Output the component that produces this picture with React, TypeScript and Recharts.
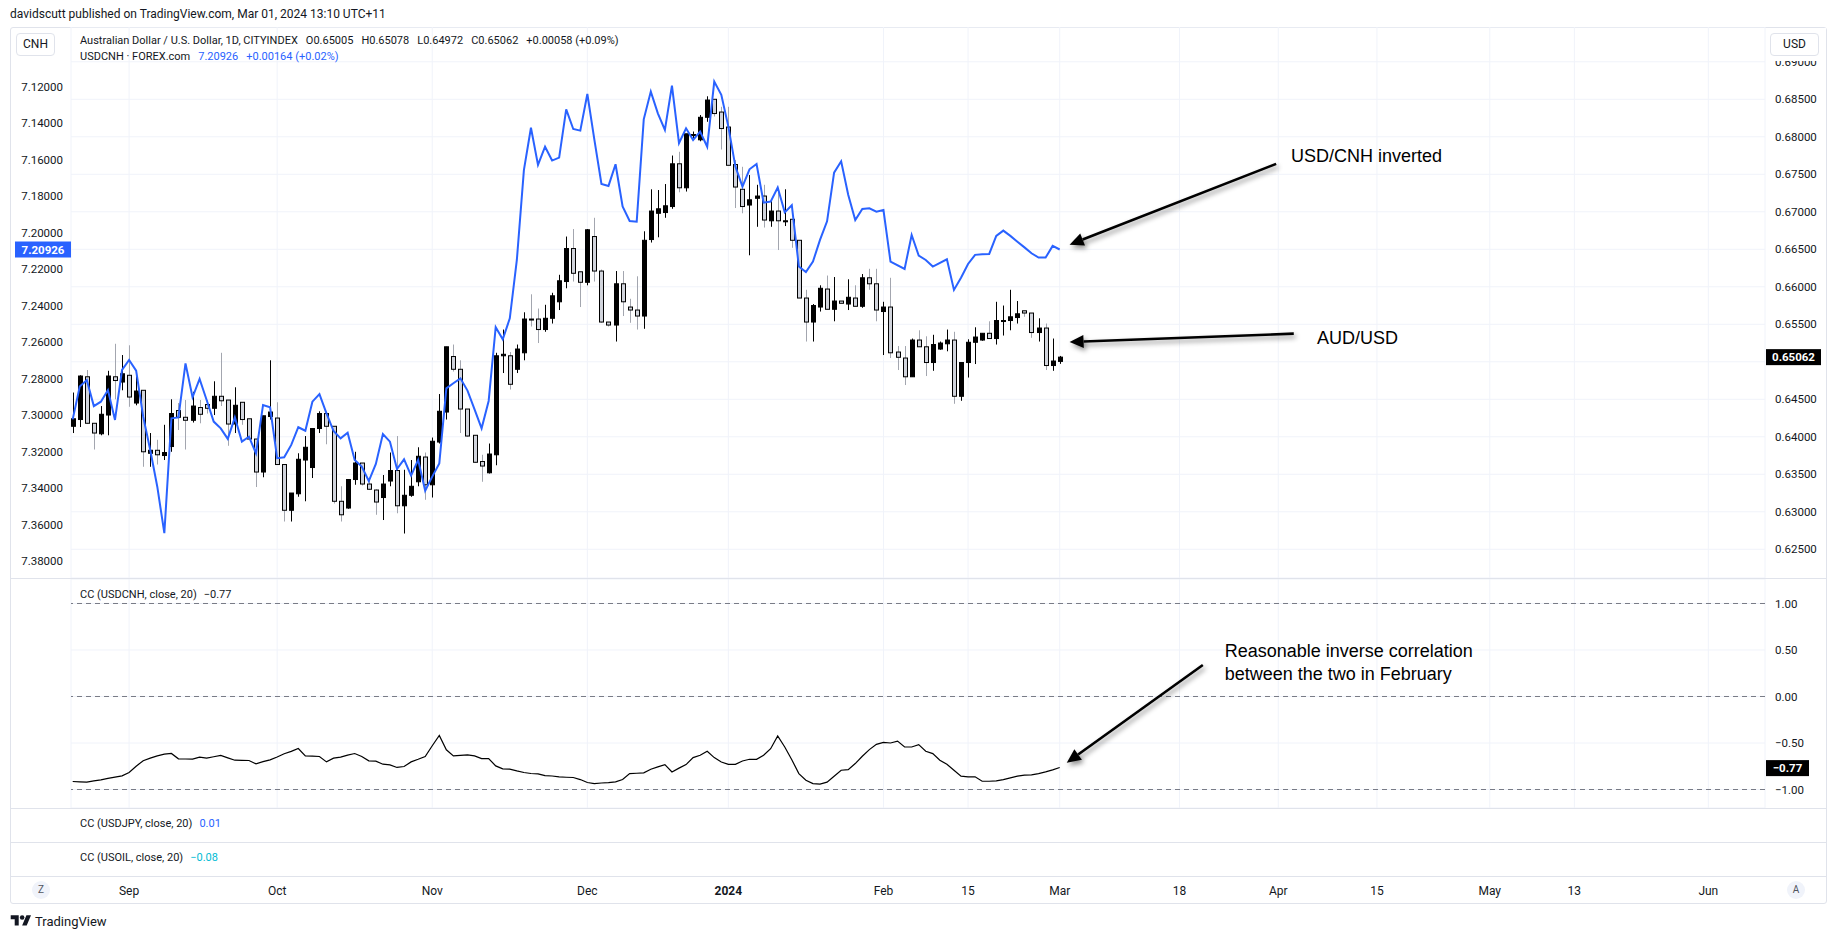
import React from 'react';
import { ComposedChart, Bar, Line, XAxis, YAxis, CartesianGrid, ReferenceLine, ReferenceDot } from 'recharts';

const FONT = 'Roboto, "Noto Sans", sans-serif';
const NOTE_FONT = '"Liberation Sans", Arial, sans-serif';
const INK = '#131722';
const GRID = '#f0f3fa';
const BORDER = '#e0e3eb';
const BLUE = '#2962ff';

// AUD/USD daily candles, oldest first; the last one is 1 Mar 2024
const audOpen = [
  0.6414, 0.6423, 0.6480, 0.6418, 0.6404, 0.6429, 0.6480, 0.6473, 0.6482, 0.6445,
  0.6462, 0.6378, 0.6382, 0.6375, 0.6387, 0.6435, 0.6426, 0.6422, 0.6439, 0.6443,
  0.6438, 0.6454, 0.6449, 0.6417, 0.6446, 0.6424, 0.6397, 0.6353, 0.6427, 0.6425,
  0.6363, 0.6302, 0.6324, 0.6369, 0.6359, 0.6411, 0.6431, 0.6414, 0.6314, 0.6305,
  0.6343, 0.6365, 0.6337, 0.6329, 0.6319, 0.6341, 0.6355, 0.6308, 0.6322, 0.6340,
  0.6373, 0.6336, 0.6393, 0.6433, 0.6507, 0.6490, 0.6437, 0.6402, 0.6367, 0.6352,
  0.6376, 0.6508, 0.6508, 0.6490, 0.6512, 0.6557, 0.6557, 0.6543, 0.6558, 0.6580,
  0.6607, 0.6651, 0.6620, 0.6606, 0.6667, 0.6621, 0.6553, 0.6549, 0.6604, 0.6573,
  0.6569, 0.6561, 0.6663, 0.6698, 0.6699, 0.6707, 0.6764, 0.6732, 0.6802, 0.6796,
  0.6826, 0.6850, 0.6833, 0.6813, 0.6763, 0.6730, 0.6709, 0.6718, 0.6721, 0.6688,
  0.6701, 0.6687, 0.6690, 0.6662, 0.6585, 0.6553, 0.6573, 0.6597, 0.6570, 0.6581,
  0.6577, 0.6585, 0.6574, 0.6612, 0.6604, 0.6567, 0.6573, 0.6513, 0.6505, 0.6480,
  0.6529, 0.6520, 0.6499, 0.6517, 0.6524, 0.6529, 0.6454, 0.6499, 0.6526, 0.6529,
  0.6538, 0.6531, 0.6554, 0.6555, 0.6559, 0.6568, 0.6565, 0.6539, 0.6545, 0.6495,
  0.65005,
];
const audHigh = [
  0.6459, 0.6482, 0.6489, 0.6418, 0.6441, 0.6488, 0.6524, 0.6509, 0.6522, 0.6481,
  0.6462, 0.6405, 0.6396, 0.6416, 0.6450, 0.6445, 0.6449, 0.6460, 0.6449, 0.6449,
  0.6474, 0.6512, 0.6449, 0.6466, 0.6446, 0.6424, 0.6397, 0.6428, 0.6502, 0.6446,
  0.6363, 0.6325, 0.6378, 0.6401, 0.6411, 0.6434, 0.6431, 0.6414, 0.6334, 0.6343,
  0.6380, 0.6365, 0.6343, 0.6330, 0.6349, 0.6379, 0.6401, 0.6356, 0.6369, 0.6386,
  0.6379, 0.6399, 0.6457, 0.6520, 0.6523, 0.6502, 0.6437, 0.6402, 0.6376, 0.6391,
  0.6512, 0.6543, 0.6513, 0.6523, 0.6566, 0.6590, 0.6571, 0.6576, 0.6592, 0.6616,
  0.6667, 0.6677, 0.6620, 0.6677, 0.6692, 0.6623, 0.6553, 0.6621, 0.6621, 0.6584,
  0.6614, 0.6674, 0.6730, 0.6729, 0.6737, 0.6775, 0.6780, 0.6804, 0.6807, 0.6829,
  0.6854, 0.6850, 0.6840, 0.6840, 0.6769, 0.6760, 0.6749, 0.6736, 0.6736, 0.6715,
  0.6732, 0.6730, 0.6690, 0.6662, 0.6596, 0.6577, 0.6602, 0.6615, 0.6613, 0.6581,
  0.6610, 0.6602, 0.6617, 0.6624, 0.6624, 0.6580, 0.6612, 0.6521, 0.6521, 0.6531,
  0.6542, 0.6534, 0.6536, 0.6527, 0.6543, 0.6540, 0.6499, 0.6530, 0.6546, 0.6538,
  0.6554, 0.6580, 0.6575, 0.6596, 0.6581, 0.6568, 0.6565, 0.6558, 0.6551, 0.6531,
  0.65078,
];
const audLow = [
  0.6405, 0.6413, 0.6417, 0.6383, 0.6402, 0.6402, 0.6450, 0.6462, 0.6440, 0.6442,
  0.6360, 0.6360, 0.6363, 0.6369, 0.6380, 0.6409, 0.6383, 0.6419, 0.6418, 0.6431,
  0.6429, 0.6441, 0.6388, 0.6405, 0.6416, 0.6396, 0.6333, 0.6346, 0.6423, 0.6363,
  0.6287, 0.6287, 0.6320, 0.6314, 0.6345, 0.6405, 0.6390, 0.6311, 0.6287, 0.6304,
  0.6336, 0.6335, 0.6329, 0.6296, 0.6289, 0.6334, 0.6298, 0.6271, 0.6320, 0.6334,
  0.6316, 0.6319, 0.6391, 0.6423, 0.6487, 0.6405, 0.6400, 0.6365, 0.6340, 0.6351,
  0.6362, 0.6485, 0.6463, 0.6485, 0.6502, 0.6547, 0.6525, 0.6540, 0.6551, 0.6569,
  0.6598, 0.6607, 0.6573, 0.6602, 0.6607, 0.6552, 0.6547, 0.6527, 0.6561, 0.6552,
  0.6543, 0.6544, 0.6659, 0.6666, 0.6692, 0.6704, 0.6726, 0.6727, 0.6798, 0.6794,
  0.6820, 0.6827, 0.6783, 0.6762, 0.6705, 0.6698, 0.6642, 0.6680, 0.6679, 0.6680,
  0.6649, 0.6681, 0.6652, 0.6585, 0.6527, 0.6527, 0.6567, 0.6570, 0.6554, 0.6578,
  0.6569, 0.6574, 0.6572, 0.6596, 0.6554, 0.6509, 0.6505, 0.6489, 0.6469, 0.6480,
  0.6520, 0.6481, 0.6488, 0.6516, 0.6514, 0.6444, 0.6448, 0.6479, 0.6497, 0.6528,
  0.6531, 0.6523, 0.6535, 0.6542, 0.6551, 0.6560, 0.6532, 0.6527, 0.6489, 0.6488,
  0.64972,
];
const audClose = [
  0.6424, 0.6481, 0.6418, 0.6405, 0.6430, 0.6481, 0.6475, 0.6484, 0.6453, 0.6461,
  0.6380, 0.6382, 0.6376, 0.6379, 0.6431, 0.6426, 0.6422, 0.6441, 0.6430, 0.6438,
  0.6454, 0.6448, 0.6417, 0.6442, 0.6423, 0.6397, 0.6353, 0.6428, 0.6433, 0.6363,
  0.6302, 0.6325, 0.6370, 0.6386, 0.6411, 0.6431, 0.6414, 0.6314, 0.6296, 0.6343,
  0.6365, 0.6337, 0.6330, 0.6313, 0.6337, 0.6355, 0.6308, 0.6322, 0.6334, 0.6374,
  0.6336, 0.6394, 0.6434, 0.6520, 0.6490, 0.6437, 0.6401, 0.6366, 0.6361, 0.6377,
  0.6508, 0.6510, 0.6470, 0.6517, 0.6557, 0.6556, 0.6543, 0.6558, 0.6588, 0.6608,
  0.6651, 0.6618, 0.6606, 0.6676, 0.6621, 0.6553, 0.6549, 0.6604, 0.6580, 0.6569,
  0.6561, 0.6662, 0.6701, 0.6704, 0.6708, 0.6764, 0.6732, 0.6804, 0.6803, 0.6826,
  0.6849, 0.6831, 0.6811, 0.6762, 0.6733, 0.6707, 0.6716, 0.6721, 0.6689, 0.6701,
  0.6688, 0.6688, 0.6662, 0.6585, 0.6553, 0.6575, 0.6598, 0.6570, 0.6581, 0.6578,
  0.6586, 0.6574, 0.6612, 0.6604, 0.6569, 0.6573, 0.6512, 0.6506, 0.6480, 0.6529,
  0.6520, 0.6499, 0.6523, 0.6525, 0.6529, 0.6454, 0.6499, 0.6526, 0.6533, 0.6538,
  0.6531, 0.6555, 0.6555, 0.6560, 0.6564, 0.6565, 0.6539, 0.6545, 0.6495, 0.6501,
  0.65062,
];

// USD/CNH close on the inverted left scale (null = no print that day)
const cnhClose = [
  7.3024, 7.2844, 7.2808, 7.2951, 7.2927, 7.2863, 7.3027, 7.2753, 7.2698, 7.2757,
  7.3009, 7.3192, 7.3393, 7.3648, 7.3018, 7.3013, 7.2717, 7.2903, 7.2802, 7.2918,
  7.3036, 7.3073, 7.3131, 7.3013, 7.3146, 7.3119, 7.3210, 7.2945, 7.2958, 7.3237,
  7.3232, 7.3164, 7.3067, 7.3086, 7.2927, 7.2885, 7.2991, 7.3088, 7.3128, 7.3097,
  7.3246, 7.3283, 7.3362, 7.3268, 7.3104, 7.3146, 7.3296, 7.3243, 7.3332, 7.3246,
  7.3415, 7.3338, 7.3265, 7.2854, 7.2826, 7.2799, 7.2866, 7.2969, 7.3073, 7.2923,
  7.2519, 7.2585, 7.2470, 7.2150, 7.1657, 7.1425, 7.1629, 7.1529, 7.1605, 7.1589,
  7.1324, 7.1432, 7.1441, 7.1240, 7.1492, 7.1733, 7.1744, 7.1625, 7.1857, 7.1936,
  7.1940, 7.1379, 7.1227, 7.1346, 7.1437, 7.1194, 7.1510, 7.1428, 7.1492, 7.1446,
  7.1529, 7.1172, 7.1245, 7.1419, 7.1638, 7.1748, 7.1653, 7.1624, 7.1836, 7.1830,
  7.1753, 7.1889, 7.1850, 7.2186, 7.2216, 7.2159, 7.2040, 7.1938, 7.1671, 7.1609,
  7.1792, 7.1931, 7.1870, 7.1867, 7.1885, 7.1876, 7.2159, null, 7.2199, 7.2013,
  7.2126, 7.2150, 7.2186, null, 7.2146, 7.2314, 7.2247, 7.2172, 7.2122, 7.2119,
  7.2117, 7.2018, 7.1989, 7.2018, 7.2050, 7.2081, 7.2113, 7.2137, 7.2137, 7.2073,
  7.20926,
];

// CC (USDCNH, close, 20)
const ccValues = [
  -0.914, -0.918, -0.921, -0.908, -0.896, -0.880, -0.867, -0.853, -0.817, -0.750,
  -0.690, -0.663, -0.638, -0.620, -0.612, -0.670, -0.672, -0.674, -0.652, -0.663,
  -0.648, -0.634, -0.660, -0.685, -0.687, -0.688, -0.724, -0.700, -0.681, -0.650,
  -0.616, -0.590, -0.559, -0.638, -0.642, -0.645, -0.703, -0.663, -0.652, -0.630,
  -0.613, -0.645, -0.692, -0.695, -0.728, -0.735, -0.763, -0.753, -0.703, -0.675,
  -0.645, -0.530, -0.419, -0.573, -0.638, -0.632, -0.627, -0.638, -0.667, -0.667,
  -0.746, -0.778, -0.781, -0.800, -0.817, -0.828, -0.832, -0.850, -0.855, -0.864,
  -0.868, -0.871, -0.893, -0.925, -0.936, -0.930, -0.925, -0.918, -0.893, -0.829,
  -0.825, -0.821, -0.782, -0.757, -0.732, -0.811, -0.770, -0.732, -0.657, -0.632,
  -0.589, -0.657, -0.704, -0.729, -0.729, -0.693, -0.675, -0.675, -0.632, -0.561,
  -0.425, -0.543, -0.680, -0.829, -0.900, -0.936, -0.943, -0.921, -0.857, -0.793,
  -0.786, -0.721, -0.643, -0.571, -0.514, -0.493, -0.500, -0.479, -0.543, -0.543,
  -0.518, -0.589, -0.614, -0.686, -0.729, -0.793, -0.857, -0.864, -0.864, -0.911,
  -0.911, -0.907, -0.893, -0.875, -0.857, -0.846, -0.843, -0.829, -0.811, -0.789,
  -0.764,
];

// time scale: bar slots up to 1 Mar, calendar days after it
const timeTickSlots = [8, 29, 51, 73, 93, 115, 127, 140, 157, 171, 185, 201, 213, 232];
const timeTickLabels = ['Sep', 'Oct', 'Nov', 'Dec', '2024', 'Feb', '15', 'Mar', '18', 'Apr', '15', 'May', '13', 'Jun'];
const X_MIN = -0.24;
const X_MAX = 240.04;

const audTicks = [0.625, 0.63, 0.635, 0.64, 0.645, 0.65, 0.655, 0.66, 0.665, 0.67, 0.675, 0.68, 0.685, 0.69];
const cnhTicks = [7.12, 7.14, 7.16, 7.18, 7.2, 7.22, 7.24, 7.26, 7.28, 7.3, 7.32, 7.34, 7.36, 7.38];
const ccTicks = [1, 0.5, 0, -0.5, -1];

const audLast = 0.65062;
const cnhLast = 7.20926;
const ccLast = -0.77;

// annotations, in data coordinates
const cnhArrow = [{ x: 170.7, y: 7.1623 }, { x: 141.4, y: 7.2066 }];
const audArrow = [{ x: 173.2, y: 0.65375 }, { x: 141.4, y: 0.65264 }];
const ccArrow = [{ x: 160.3, y: 0.339 }, { x: 141.0, y: -0.712 }];

const minus = (v: number, d: number) => (v < 0 ? '\u2212' + Math.abs(v).toFixed(d) : v.toFixed(d));

function Candle(props: any) {
  const { x, y, width, height, payload } = props;
  if (x == null || y == null) return null;
  const { o, h, l, c } = payload;
  const up = c >= o;
  const k = h > l ? height / (h - l) : 0;
  const yo = y + (h - o) * k;
  const yc = y + (h - c) * k;
  const top = Math.min(yo, yc);
  const bodyH = Math.max(Math.abs(yo - yc), 1);
  const mid = Math.round(x + width / 2) + 0.5;
  return (
    <g>
      <line x1={mid} x2={mid} y1={y} y2={y + height} stroke={up ? '#000' : '#a3a6af'} strokeWidth={1} />
      <rect x={mid - 2} y={top} width={4} height={bodyH} fill={up ? '#000' : '#d1d4dc'} stroke="#000" strokeWidth={1} />
    </g>
  );
}

let arrowCount = 0;
function Arrow(p: any) {
  const { x1, y1, x2, y2 } = p;
  const id = `arrowShadow${arrowCount++}`;
  const ang = Math.atan2(y2 - y1, x2 - x1);
  const len = 14;
  const half = 6.5;
  const bx = x2 - len * Math.cos(ang);
  const by = y2 - len * Math.sin(ang);
  const nx = -Math.sin(ang);
  const ny = Math.cos(ang);
  return (
    <g>
      <defs>
        <filter id={id} x="-20%" y="-50%" width="140%" height="200%">
          <feDropShadow dx="2" dy="3" stdDeviation="2.5" floodColor="#000" floodOpacity="0.45" />
        </filter>
      </defs>
      <g filter={`url(#${id})`}>
        <line x1={x1} y1={y1} x2={bx} y2={by} stroke="#000" strokeWidth={2.6} />
        <polygon points={`${x2},${y2} ${bx + nx * half},${by + ny * half} ${bx - nx * half},${by - ny * half}`} fill="#000" />
      </g>
    </g>
  );
}

const note = (text: string) => (p: any) => (
  <text x={p.cx} y={p.cy} dominantBaseline="central" fontFamily={NOTE_FONT} fontSize={18} fill="#000">
    {text}
  </text>
);

const tag = (text: string, bg: string, side: 'left' | 'right', w: number) => (p: any) => {
  const x = side === 'left' ? Math.min(p.x1, p.x2) - w : Math.max(p.x1, p.x2) + 1;
  return (
    <g>
      <rect x={x} y={p.y1 - 8} width={w} height={16} fill={bg} />
      <text x={x + w / 2} y={p.y1} textAnchor="middle" dominantBaseline="central" fill="#fff" fontSize={11.5} fontWeight={700} fontFamily={FONT}>
        {text}
      </text>
    </g>
  );
};

function TimeTick(p: any) {
  const i = timeTickSlots.indexOf(p.payload.value);
  const label = timeTickLabels[i];
  return (
    <text x={p.x} y={14} textAnchor="middle" dominantBaseline="central" fontSize={12} fontFamily={FONT} fill={INK} fontWeight={label === '2024' ? 700 : 400}>
      {label}
    </text>
  );
}

const tickStyle = { fill: INK, fontSize: 11.5, fontFamily: FONT };

const hline = (top: number) => (
  <div style={{ position: 'absolute', left: 10, top, width: 1817, height: 1, background: BORDER }} />
);

export default function App() {
  const rows = audOpen.map((o, i) => ({
    slot: i,
    o,
    h: audHigh[i],
    l: audLow[i],
    c: audClose[i],
    cnh: cnhClose[i],
    cc: ccValues[i],
  }));

  const xAxis = (
    <XAxis dataKey="slot" type="number" domain={[X_MIN, X_MAX]} allowDataOverflow ticks={timeTickSlots} interval={0} hide />
  );

  return (
    <div style={{ position: 'absolute', left: 0, top: 0, width: 1836, height: 939, background: '#fff', fontFamily: FONT, color: INK, overflow: 'hidden' }}>
      <div style={{ position: 'absolute', left: 10, top: 6, fontSize: 12, lineHeight: '16px' }}>
        davidscutt published on TradingView.com, Mar 01, 2024 13:10 UTC+11
      </div>

      <div style={{ position: 'absolute', left: 10, top: 27, width: 1817, height: 877, border: `1px solid ${BORDER}`, boxSizing: 'border-box', borderRadius: 3 }} />

      {/* price pane */}
      <div style={{ position: 'absolute', left: 11, top: 27 }}>
        <ComposedChart width={1815} height={551} data={rows} margin={{ top: 0, right: 0, bottom: 0, left: 0 }}>
          <CartesianGrid yAxisId="aud" stroke={GRID} />
          {xAxis}
          <YAxis yAxisId="cnh" orientation="left" width={60} reversed domain={[7.08727, 7.38936]} allowDataOverflow
            ticks={cnhTicks} interval={0} tickSize={0} tickMargin={8} axisLine={false} tickLine={false}
            tick={tickStyle} tickFormatter={(v: number) => v.toFixed(5)} />
          <YAxis yAxisId="aud" orientation="right" width={61} domain={[0.62117, 0.69464]} allowDataOverflow
            ticks={audTicks} interval={0} tickSize={0} tickMargin={10} axisLine={false} tickLine={false}
            tick={tickStyle} tickFormatter={(v: number) => (Math.abs(v - 0.65) < 1e-9 ? '' : v.toFixed(5))} />
          <Bar yAxisId="aud" dataKey={(d: any) => [d.l, d.h]} barSize={5} shape={Candle} isAnimationActive={false} />
          <Line yAxisId="cnh" type="linear" dataKey="cnh" stroke={BLUE} strokeWidth={2} dot={false} activeDot={false} connectNulls isAnimationActive={false} />
          <ReferenceLine yAxisId="cnh" segment={cnhArrow} shape={Arrow} />
          <ReferenceLine yAxisId="aud" segment={audArrow} shape={Arrow} />
          <ReferenceDot yAxisId="cnh" x={172.8} y={7.1578} r={1} shape={note('USD/CNH inverted')} />
          <ReferenceDot yAxisId="aud" x={176.5} y={0.65317} r={1} shape={note('AUD/USD')} />
          <ReferenceLine yAxisId="cnh" y={cnhLast} shape={tag(cnhLast.toFixed(5), BLUE, 'left', 56)} />
          <ReferenceLine yAxisId="aud" y={audLast} shape={tag(audLast.toFixed(5), '#000', 'right', 55)} />
        </ComposedChart>
      </div>

      <div style={{ position: 'absolute', left: 16, top: 33, width: 39, height: 23, border: `1px solid ${BORDER}`, borderRadius: 4, boxSizing: 'border-box', background: '#fff', fontSize: 12, lineHeight: '21px', textAlign: 'center' }}>CNH</div>
      <div style={{ position: 'absolute', left: 1766, top: 28, width: 60, height: 33, background: '#fff' }} />
      <div style={{ position: 'absolute', left: 1770, top: 33, width: 49, height: 23, border: `1px solid ${BORDER}`, borderRadius: 4, boxSizing: 'border-box', background: '#fff', fontSize: 12, lineHeight: '21px', textAlign: 'center' }}>USD</div>

      <div style={{ position: 'absolute', left: 80, top: 33, fontSize: 11, lineHeight: '16px', whiteSpace: 'nowrap' }}>
        <span>Australian Dollar / U.S. Dollar, 1D, CITYINDEX</span>
        <span style={{ marginLeft: 8 }}>O0.65005</span>
        <span style={{ marginLeft: 8 }}>H0.65078</span>
        <span style={{ marginLeft: 8 }}>L0.64972</span>
        <span style={{ marginLeft: 8 }}>C0.65062</span>
        <span style={{ marginLeft: 8 }}>+0.00058 (+0.09%)</span>
      </div>
      <div style={{ position: 'absolute', left: 80, top: 49, fontSize: 11, lineHeight: '16px', whiteSpace: 'nowrap' }}>
        <span>USDCNH · FOREX.com</span>
        <span style={{ marginLeft: 8, color: BLUE }}>7.20926</span>
        <span style={{ marginLeft: 8, color: BLUE }}>+0.00164 (+0.02%)</span>
      </div>

      {hline(578)}

      {/* correlation pane */}
      <div style={{ position: 'absolute', left: 11, top: 579 }}>
        <ComposedChart width={1815} height={229} data={rows} margin={{ top: 0, right: 0, bottom: 0, left: 60 }}>
          <CartesianGrid stroke={GRID} />
          {xAxis}
          <YAxis orientation="right" width={61} domain={[-1.1989, 1.2634]} allowDataOverflow ticks={ccTicks} interval={0}
            tickSize={0} tickMargin={10} axisLine={false} tickLine={false} tick={tickStyle} tickFormatter={(v: number) => minus(v, 2)} />
          {[1, 0, -1].map((v) => (
            <ReferenceLine key={v} y={v} stroke="#787b86" strokeDasharray="5 4" />
          ))}
          <Line type="linear" dataKey="cc" stroke="#000" strokeWidth={1.2} dot={false} activeDot={false} isAnimationActive={false} />
          <ReferenceLine segment={ccArrow} shape={Arrow} />
          <ReferenceDot x={163.4} y={0.489} r={1} shape={note('Reasonable inverse correlation')} />
          <ReferenceDot x={163.4} y={0.242} r={1} shape={note('between the two in February')} />
          <ReferenceLine y={ccLast} shape={tag(minus(ccLast, 2), '#000', 'right', 43)} />
        </ComposedChart>
      </div>
      <div style={{ position: 'absolute', left: 80, top: 587, fontSize: 11, lineHeight: '16px', whiteSpace: 'nowrap' }}>
        <span>CC (USDCNH, close, 20)</span>
        <span style={{ marginLeft: 7 }}>{minus(ccLast, 2)}</span>
      </div>

      {hline(808)}
      <div style={{ position: 'absolute', left: 80, top: 816, fontSize: 11, lineHeight: '16px', whiteSpace: 'nowrap' }}>
        <span>CC (USDJPY, close, 20)</span>
        <span style={{ marginLeft: 7, color: BLUE }}>0.01</span>
      </div>
      {hline(842)}
      <div style={{ position: 'absolute', left: 80, top: 850, fontSize: 11, lineHeight: '16px', whiteSpace: 'nowrap' }}>
        <span>CC (USOIL, close, 20)</span>
        <span style={{ marginLeft: 7, color: '#00bcd4' }}>{'\u22120.08'}</span>
      </div>
      {hline(876)}

      {/* time scale */}
      <div style={{ position: 'absolute', left: 11, top: 877 }}>
        <ComposedChart width={1815} height={26} data={rows} margin={{ top: 0, right: 61, bottom: 0, left: 60 }}>
          <XAxis dataKey="slot" type="number" domain={[X_MIN, X_MAX]} allowDataOverflow ticks={timeTickSlots} interval={0}
            height={25} axisLine={false} tickLine={false} tick={<TimeTick />} />
          <YAxis hide />
        </ComposedChart>
      </div>

      <div style={{ position: 'absolute', left: 32, top: 881, width: 18, height: 18, borderRadius: 9, background: '#f0f3fa', fontSize: 10, lineHeight: '18px', textAlign: 'center', color: '#50535e' }}>Z</div>
      <div style={{ position: 'absolute', left: 1787, top: 881, width: 18, height: 18, borderRadius: 9, background: '#f0f3fa', fontSize: 10, lineHeight: '18px', textAlign: 'center', color: '#50535e' }}>A</div>

      <div style={{ position: 'absolute', left: 10, top: 913, display: 'flex', alignItems: 'center' }}>
        <svg width={22} height={16} viewBox="0 0 36 28">
          <path d="M14 22H7V11H0V4h14v18zM28 22h-8l7.5-18h8L28 22z" fill={INK} />
          <circle cx={20} cy={8} r={4} fill={INK} />
        </svg>
        <span style={{ marginLeft: 3, fontSize: 13, color: INK }}>TradingView</span>
      </div>
    </div>
  );
}
